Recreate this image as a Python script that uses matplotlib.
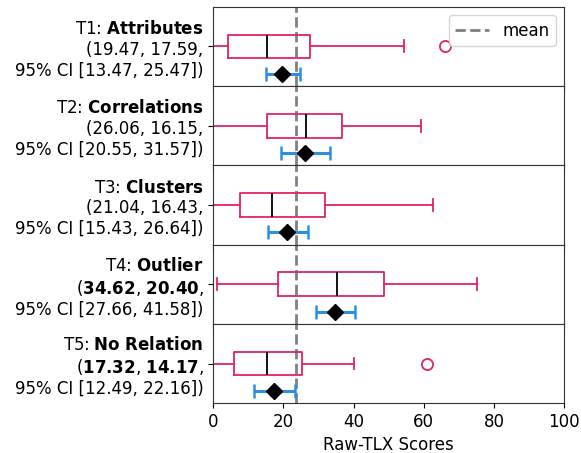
import matplotlib
matplotlib.use("Agg")
import matplotlib.pyplot as plt

tasks = ["T1", "T2", "T3", "T4", "T5"]
names = ["Attributes", "Correlations", "Clusters", "Outlier", "No Relation"]
means = [19.47, 26.06, 21.04, 34.62, 17.32]
sds = [17.59, 16.15, 16.43, 20.40, 14.17]
ci_lo = [13.47, 20.55, 15.43, 27.66, 12.49]
ci_hi = [25.47, 31.57, 26.64, 41.58, 22.16]
bold_stats = [False, False, False, True, True]

# interval ends as drawn in the picture
bar_lo = [14.9, 19.3, 15.7, 29.3, 11.6]
bar_hi = [24.6, 33.3, 27.1, 40.3, 23.3]

# box plot summary
whislo = [0.0, 0.0, 0.0, 1.0, 0.0]
q1 = [4.3, 15.2, 7.6, 18.4, 5.9]
med = [15.2, 26.4, 16.8, 35.2, 15.2]
q3 = [27.6, 36.7, 31.9, 48.6, 25.2]
whishi = [54.3, 59.3, 62.7, 75.2, 40.2]
fliers = [[66.0], [], [], [], [60.9]]

overall_mean = 23.7

box_col = "#E0245E"
ci_col = "#2C8FE3"

fig, axes = plt.subplots(5, 1, figsize=(5.81, 4.53), dpi=100, sharex=True)
fig.subplots_adjust(left=0.367, right=0.971, top=0.985, bottom=0.110, hspace=0)

for i, ax in enumerate(axes):
    stats = [dict(whislo=whislo[i], q1=q1[i], med=med[i], q3=q3[i],
                  whishi=whishi[i], fliers=fliers[i])]
    ax.bxp(stats, positions=[0], vert=False, widths=0.6,
           boxprops=dict(color=box_col, lw=1.3),
           whiskerprops=dict(color=box_col, lw=1.3),
           capprops=dict(color=box_col, lw=1.3),
           medianprops=dict(color="black", lw=1.3),
           flierprops=dict(marker="o", markerfacecolor="none",
                           markeredgecolor=box_col, markersize=8, mew=1.3))
    ax.errorbar([means[i]], [-0.69],
                xerr=[[means[i] - bar_lo[i]], [bar_hi[i] - means[i]]],
                fmt="D", color="black", markersize=8, ecolor=ci_col,
                elinewidth=2.2, capsize=5, capthick=1.8, zorder=3)
    ax.axvline(overall_mean, color="grey", ls="--", lw=2, label="mean", zorder=0)
    ax.set_ylim(-1, 1)
    ax.set_xlim(0, 100)
    name = r"$\bf{" + names[i].replace(" ", r"\ ") + "}$"
    if bold_stats[i]:
        line2 = "($\\bf{%.2f}$, $\\bf{%.2f}$," % (means[i], sds[i])
    else:
        line2 = "(%.2f, %.2f," % (means[i], sds[i])
    line3 = "95%% CI [%.2f, %.2f])" % (ci_lo[i], ci_hi[i])
    ax.set_yticks([0])
    ax.set_yticklabels([f"{tasks[i]}: {name}\n{line2}\n{line3}"], fontsize=12)
    for s in ax.spines.values():
        s.set_color("#333333")
    ax.tick_params(axis="x", labelsize=12)

axes[0].legend(loc="upper right", fontsize=12)
axes[-1].set_xlabel("Raw-TLX Scores", fontsize=12)

fig.savefig("out.png", dpi=100)
